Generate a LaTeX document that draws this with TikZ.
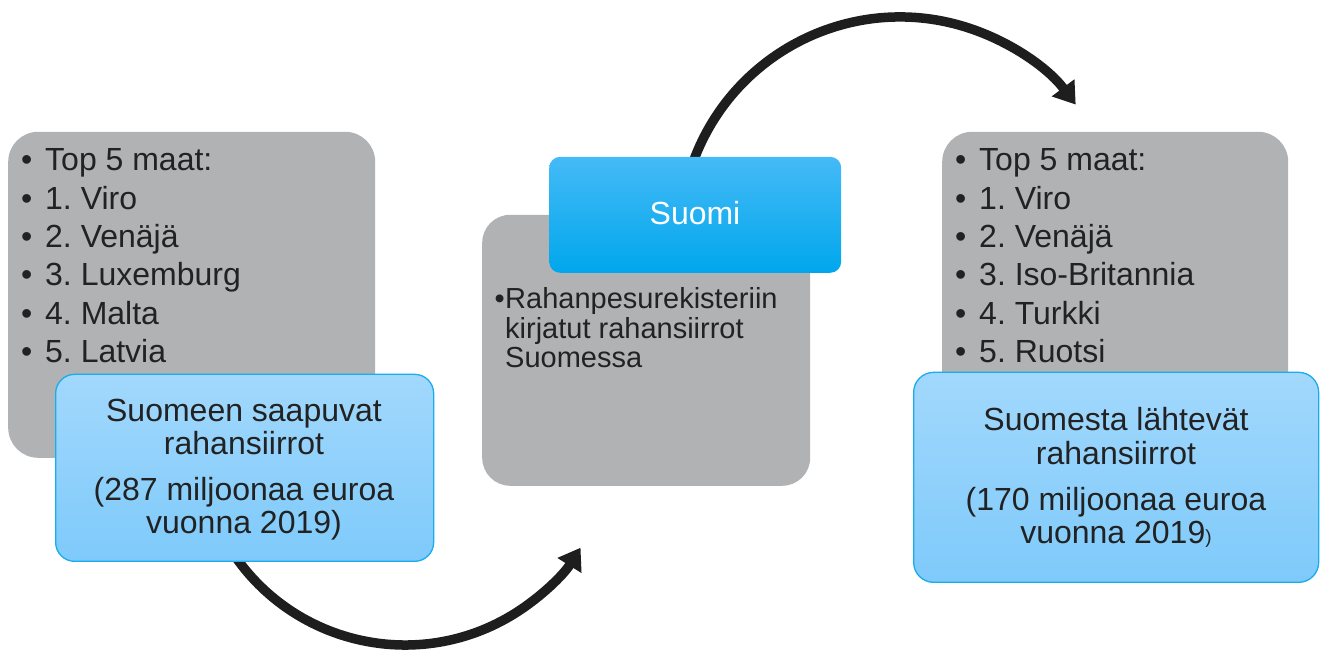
\documentclass[tikz,border=0pt]{standalone}
\usepackage{fontspec}
\setmainfont{Liberation Sans}
\usetikzlibrary{arrows.meta}
\frenchspacing
\definecolor{boxgrey}{HTML}{B1B2B4}
\definecolor{inktext}{HTML}{222222}
\definecolor{flowink}{HTML}{1E1E1E}
\definecolor{paletop}{HTML}{A2D8FC}
\definecolor{palebot}{HTML}{7ECAFB}
\definecolor{paleedge}{HTML}{1AACEB}
\definecolor{deeptop}{HTML}{45BAF7}
\definecolor{deepbot}{HTML}{00A7EC}
\begin{document}
\begin{tikzpicture}[x=1pt,y=1pt,
  greybox/.style={fill=boxgrey, draw=none, rounded corners=30pt, inner sep=0pt, anchor=south west},
  palebox/.style={top color=paletop, bottom color=palebot, draw=paleedge, line width=1.3pt,
                  rounded corners=19pt, inner sep=0pt, anchor=south west},
  deepbox/.style={top color=deeptop, bottom color=deepbot, draw=none,
                  rounded corners=11pt, inner sep=0pt, anchor=south west},
  listitem/.style={inner sep=0pt, anchor=base west, text=inktext, font=\fontsize{32}{38.4}\selectfont},
  dot/.style={inner sep=0pt, anchor=base west, text=inktext, font=\fontsize{32}{38.4}\selectfont},
  midtext/.style={inner sep=0pt, anchor=base west, text=inktext, font=\fontsize{29}{30}\selectfont},
  boxline/.style={inner sep=0pt, anchor=base, text=inktext, font=\fontsize{32}{36}\selectfont},
  flow/.style={draw=flowink, line width=9.5pt, -{Triangle[length=21pt,width=27pt]}}
]
\useasboundingbox (0,0) rectangle (1324,652);

% curved flow arrows, drawn first so the boxes cover their tails
\path (405,214) ++(212:207pt) coordinate (inTail);
\draw[flow] (inTail) arc[start angle=212, end angle=328, radius=207pt];
\path (900,415) ++(163:220pt) coordinate (outTail);
\draw[flow] (outTail) arc[start angle=163, end angle=37, radius=220pt];

% grey panels
\node[greybox, minimum width=367pt, minimum height=326pt] (lgrey) at (8,194) {};
\node[greybox, minimum width=328pt, minimum height=271pt, rounded corners=28pt] (mgrey) at (482,166) {};
\node[greybox, minimum width=346pt, minimum height=326pt] (rgrey) at (942,194) {};

% incoming countries
\foreach \t [count=\i] in {Top 5 maat:, 1. Viro, 2. Venäjä, 3. Luxemburg, 4. Malta, 5. Latvia} {
  \node[dot] (lb\i) at (21,{481.3-(\i-1)*38.4}) {\textbullet};
  \node[listitem] (li\i) at (45,{481.3-(\i-1)*38.4}) {\t};
}

% outgoing countries
\foreach \t [count=\i] in {Top 5 maat:, 1. Viro, 2. Venäjä, 3. Iso-Britannia, 4. Turkki, 5. Ruotsi} {
  \node[dot] (rb\i) at (955,{481.3-(\i-1)*38.4}) {\textbullet};
  \node[listitem] (ri\i) at (979,{481.3-(\i-1)*38.4}) {\t};
}

% register description
\node[midtext, anchor=base east] (mb) at (505,343) {\textbullet};
\node[midtext] (m1) at (505,343) {Rahanpesurekisteriin};
\node[midtext] (m2) at (505,313.5) {kirjatut rahansiirrot};
\node[midtext] (m3) at (505,284) {Suomessa};

% blue headers
\node[palebox, minimum width=378pt, minimum height=187pt] (lblue) at (55,90) {};
\node[boxline] (lt1) at (244,230) {Suomeen saapuvat};
\node[boxline] (lt2) at (244,197.5) {rahansiirrot};
\node[boxline] (lt3) at (244,151) {(287 miljoonaa euroa};
\node[boxline] (lt4) at (244,118) {vuonna 2019)};

\node[deepbox, minimum width=292pt, minimum height=116pt] (suomi) at (549,379) {};
\node[boxline, text=white] (st) at (695,427) {Suomi};

\node[palebox, minimum width=405pt, minimum height=210pt, rounded corners=20pt] (rblue) at (913,69) {};
\node[boxline] (rt1) at (1116,221.3) {Suomesta lähtevät};
\node[boxline] (rt2) at (1116,187) {rahansiirrot};
\node[boxline] (rt3) at (1116,141.3) {(170 miljoonaa euroa};
\node[boxline] (rt4) at (1116,108) {vuonna 2019{\fontsize{19}{20}\selectfont)}};
\end{tikzpicture}
\end{document}
